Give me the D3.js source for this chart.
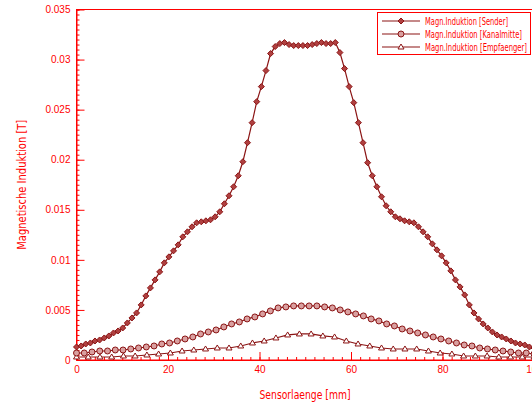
<!DOCTYPE html>
<html>
<head>
<meta charset="utf-8">
<script src="https://cdn.jsdelivr.net/npm/d3@7"></script>
<style>
  body { margin: 0; background: #fff; }
  svg { display: block; }
  text { font-family: "DejaVu Sans Condensed", "Liberation Sans Narrow", sans-serif; fill: #ff0000; }
</style>
</head>
<body>
<script>
const sender = [
  0.0013, 0.0014, 0.0016, 0.0017, 0.0019, 0.0020, 0.0022, 0.0024, 0.0027, 0.0029,
  0.0032, 0.0037, 0.0042, 0.0047, 0.0055, 0.0064, 0.0072, 0.0080, 0.0088, 0.0097,
  0.0103, 0.0109, 0.0115, 0.0123, 0.0128, 0.0133, 0.0137, 0.0138, 0.0139, 0.0140,
  0.0143, 0.0148, 0.0156, 0.0164, 0.0173, 0.0184, 0.0198, 0.0217, 0.0237, 0.0258,
  0.0273, 0.0289, 0.0306, 0.0313, 0.0316, 0.0317, 0.0315, 0.0314, 0.0314, 0.0314,
  0.0314, 0.0315, 0.0316, 0.0317, 0.0316, 0.0316, 0.0317, 0.0307, 0.0291, 0.0273,
  0.0257, 0.0237, 0.0217, 0.0197, 0.0184, 0.0173, 0.0163, 0.0154, 0.0148, 0.0143,
  0.0141, 0.0139, 0.0138, 0.0137, 0.0133, 0.0128, 0.0123, 0.0116, 0.0110, 0.0104,
  0.0097, 0.0089, 0.0080, 0.0073, 0.0065, 0.0055, 0.0047, 0.0041, 0.0036, 0.0032,
  0.0028, 0.0025, 0.0023, 0.0021, 0.0019, 0.0017, 0.0016, 0.0015, 0.0013, 0.0012
];
const kanalmitte = [
  0.0007, 0.0007, 0.0008, 0.0009, 0.0009, 0.0010, 0.0010, 0.0011, 0.0012, 0.0013,
  0.0014, 0.0016, 0.0017, 0.0019, 0.0021, 0.0023, 0.0026, 0.0028, 0.0030, 0.0033,
  0.0036, 0.0038, 0.0041, 0.0043, 0.0046, 0.0049, 0.0052, 0.0053, 0.0054, 0.0054,
  0.0054, 0.0054, 0.0053, 0.0052, 0.0050, 0.0048, 0.0046, 0.0044, 0.0041, 0.0039,
  0.0036, 0.0034, 0.0031, 0.0029, 0.0027, 0.0025, 0.0023, 0.0021, 0.0019, 0.0017,
  0.0015, 0.0014, 0.0012, 0.0011, 0.0010, 0.0009, 0.0008, 0.0007, 0.0007, 0.0006
];
const empfaenger = [
  0.0003, 0.0003, 0.0003, 0.0003, 0.0004, 0.0004, 0.0005, 0.0006, 0.0007, 0.0009,
  0.0010, 0.0011, 0.0012, 0.0012, 0.0014, 0.0017, 0.0019, 0.0022, 0.0025, 0.0026,
  0.0026, 0.0024, 0.0023, 0.0019, 0.0016, 0.0014, 0.0012, 0.0011, 0.0011, 0.0011,
  0.0009, 0.0007, 0.0006, 0.0004, 0.0004, 0.0004, 0.0003, 0.0003, 0.0003, 0.0003
];
const seriesNames = ["Magn.Induktion [Sender]", "Magn.Induktion [Kanalmitte]", "Magn.Induktion [Empfaenger]"];
const xTicks = [0, 20, 40, 60, 80, 100];
const yTicks = [0, 0.005, 0.01, 0.015, 0.02, 0.025, 0.03, 0.035];

const width = 532, height = 408;
const margin = { left: 76.5, right: -2, top: 9.5, bottom: 48 };
const red = "#ff0000";
const dark = "#8b1414";

const svg = d3.select("body").append("svg")
    .attr("width", width)
    .attr("height", height);

const x = d3.scaleLinear().domain([0, 100]).range([margin.left, width - margin.right]);
const y = d3.scaleLinear().domain([0, 0.035]).range([height - margin.bottom, margin.top]);

// Rahmen oben / rechts
svg.append("rect")
    .attr("x", x(0)).attr("y", y(0.035))
    .attr("width", x(100) - x(0)).attr("height", y(0) - y(0.035))
    .attr("fill", "none").attr("stroke", red).attr("stroke-width", 1);

// Achsen mit Nebenteilung (Striche nach innen)
const xMinor = d3.range(0, 101, 2);
svg.append("g")
    .attr("transform", `translate(0,${y(0)})`)
    .call(d3.axisBottom(x).tickValues(xMinor).tickSize(-3).tickFormat(""))
    .call(g => g.selectAll("line").attr("stroke", red))
    .call(g => g.select(".domain").attr("stroke", red));
svg.append("g")
    .attr("transform", `translate(0,${y(0)})`)
    .call(d3.axisBottom(x).tickValues(xTicks).tickSize(-8).tickPadding(6).tickFormat(d3.format("d")))
    .call(g => g.select(".domain").remove())
    .call(g => g.selectAll("line").attr("stroke", red))
    .call(g => g.selectAll("text").attr("font-size", 10).style("font-family", "inherit").attr("fill", red).attr("y", 6));

const yMinor = d3.range(0, 71).map(i => i * 0.0005);
svg.append("g")
    .attr("transform", `translate(${x(0)},0)`)
    .call(d3.axisLeft(y).tickValues(yMinor).tickSize(-3).tickFormat(""))
    .call(g => g.selectAll("line").attr("stroke", red))
    .call(g => g.select(".domain").attr("stroke", red));
svg.append("g")
    .attr("transform", `translate(${x(0)},0)`)
    .call(d3.axisLeft(y).tickValues(yTicks).tickSize(-8).tickPadding(5).tickFormat(d => d === 0 ? "0" : String(+d.toFixed(3))))
    .call(g => g.select(".domain").remove())
    .call(g => g.selectAll("line").attr("stroke", red))
    .call(g => g.selectAll("text").attr("font-size", 10).style("font-family", "inherit").attr("fill", red).attr("x", -6));

// Achsentitel
svg.append("text")
    .attr("x", 305).attr("y", 399)
    .attr("text-anchor", "middle").attr("font-size", 12)
    .attr("textLength", 91).attr("lengthAdjust", "spacingAndGlyphs")
    .text("Sensorlaenge [mm]");
svg.append("text")
    .attr("transform", `translate(26,${(y(0) + y(0.035)) / 2}) rotate(-90)`)
    .attr("text-anchor", "middle").attr("font-size", 12)
    .attr("textLength", 130).attr("lengthAdjust", "spacingAndGlyphs")
    .text("Magnetische Induktion [T]");

// Kurven
const toPoints = arr => arr.map((v, i) => [i * 100 / (arr.length - 1), v]);
const line = d3.line().x(d => x(d[0])).y(d => y(d[1]));
const plot = svg.append("g");

const series = [
  { data: toPoints(sender), marker: "diamond" },
  { data: toPoints(kanalmitte), marker: "circle" },
  { data: toPoints(empfaenger), marker: "triangle" }
];

function drawMarker(g, type, cx, cy) {
  if (type === "diamond") {
    g.append("path")
      .attr("d", `M${cx},${cy - 3}L${cx + 3},${cy}L${cx},${cy + 3}L${cx - 3},${cy}Z`)
      .attr("fill", "#b04040").attr("stroke", dark).attr("stroke-width", 1);
  } else if (type === "circle") {
    g.append("circle").attr("cx", cx).attr("cy", cy).attr("r", 3)
      .attr("fill", "#d9a0a0").attr("stroke", dark).attr("stroke-width", 1);
  } else {
    g.append("path")
      .attr("d", `M${cx},${cy - 3}L${cx + 3},${cy + 2}L${cx - 3},${cy + 2}Z`)
      .attr("fill", "#fff").attr("stroke", dark).attr("stroke-width", 1);
  }
}

series.slice().reverse().forEach(s => {
  plot.append("path")
    .datum(s.data)
    .attr("fill", "none")
    .attr("stroke", dark)
    .attr("stroke-width", 1.2)
    .attr("d", line);
  s.data.forEach(d => drawMarker(plot, s.marker, x(d[0]), y(d[1])));
});

// Legende
const legendWidths = [83, 97, 102];
const legend = svg.append("g");
legend.append("rect")
    .attr("x", 377.5).attr("y", 12.5).attr("width", 153).attr("height", 42)
    .attr("fill", "#fff").attr("stroke", red);
seriesNames.forEach((name, i) => {
  const ly = 21 + i * 13;
  legend.append("line")
    .attr("x1", 382).attr("x2", 420).attr("y1", ly).attr("y2", ly)
    .attr("stroke", dark).attr("stroke-width", 1.2);
  drawMarker(legend, series[i].marker, 401, ly);
  legend.append("text")
    .attr("x", 425).attr("y", ly + 3.5)
    .attr("font-size", 10)
    .attr("textLength", legendWidths[i]).attr("lengthAdjust", "spacingAndGlyphs")
    .text(name);
});
</script>
</body>
</html>
